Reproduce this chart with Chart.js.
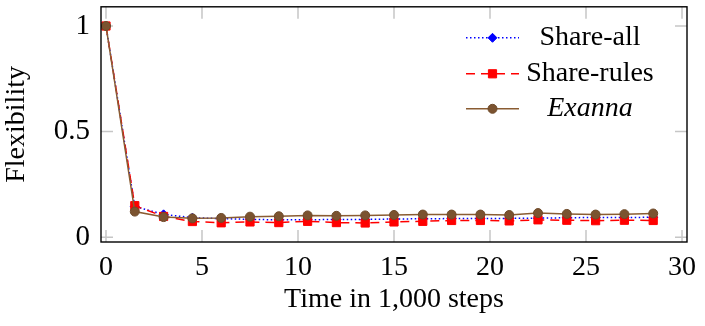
<!DOCTYPE html>
<html><head><meta charset="utf-8">
<script src="https://cdn.jsdelivr.net/npm/chart.js@4/dist/chart.umd.min.js"></script>
<style>html,body{margin:0;padding:0;background:#fff;}canvas{display:block;}</style>
</head><body>
<canvas id="c" width="705" height="326"></canvas>
<script>
const steps = [0, 1.5, 3, 4.5, 6, 7.5, 9, 10.5, 12, 13.5, 15, 16.5, 18, 19.5, 21, 22.5, 24, 25.5, 27, 28.5];
const shareAll = [1.0, 0.145, 0.108, 0.092, 0.088, 0.084, 0.082, 0.082, 0.084, 0.084, 0.086, 0.087, 0.088, 0.088, 0.089, 0.090, 0.092, 0.093, 0.093, 0.094];
const shareRules = [1.0, 0.149, 0.098, 0.074, 0.068, 0.072, 0.069, 0.075, 0.069, 0.067, 0.072, 0.075, 0.079, 0.079, 0.077, 0.082, 0.080, 0.078, 0.080, 0.079];
const exanna = [1.0, 0.121, 0.095, 0.089, 0.091, 0.097, 0.099, 0.103, 0.101, 0.103, 0.105, 0.107, 0.107, 0.107, 0.105, 0.114, 0.110, 0.107, 0.109, 0.112];
const xTickValues = [0, 5, 10, 15, 20, 25, 30];
const yTickValues = [0, 0.5, 1];
const seriesNames = ['Share-all', 'Share-rules', 'Exanna'];
const xTitle = 'Time in 1,000 steps';
const yTitle = 'Flexibility';

const FONT = '"Liberation Serif", "Times New Roman", serif';
const toPoints = ys => steps.map((x, i) => ({x: x, y: ys[i]}));

const innerTicks = {
  id: 'innerTicks',
  beforeDatasetsDraw(chart) {
    const ctx = chart.ctx, a = chart.chartArea, x = chart.scales.x, y = chart.scales.y;
    ctx.save();
    ctx.strokeStyle = '#c6c6c6';
    ctx.lineWidth = 1.5;
    ctx.beginPath();
    x.ticks.forEach(t => {
      const px = x.getPixelForValue(t.value);
      ctx.moveTo(px, a.bottom); ctx.lineTo(px, a.bottom - 12);
      ctx.moveTo(px, a.top); ctx.lineTo(px, a.top + 12);
    });
    y.ticks.forEach(t => {
      const py = y.getPixelForValue(t.value);
      ctx.moveTo(a.left, py); ctx.lineTo(a.left + 12, py);
      ctx.moveTo(a.right, py); ctx.lineTo(a.right - 12, py);
    });
    ctx.stroke();
    ctx.restore();
  },
  afterDatasetsDraw(chart) {
    const ctx = chart.ctx, a = chart.chartArea;
    ctx.save();
    ctx.strokeStyle = '#000';
    ctx.lineWidth = 1.4;
    ctx.strokeRect(a.left, a.top, a.right - a.left, a.bottom - a.top);
    ctx.restore();
  }
};

function drawMarker(ctx, style, r, cx, cy, fill, stroke) {
  ctx.save();
  ctx.fillStyle = fill; ctx.strokeStyle = stroke; ctx.lineWidth = 1;
  ctx.setLineDash([]);
  ctx.beginPath();
  if (style === 'circle') {
    ctx.arc(cx, cy, r, 0, Math.PI * 2);
  } else if (style === 'rect') {
    const s = Math.SQRT1_2 * r;
    ctx.rect(cx - s, cy - s, 2 * s, 2 * s);
  } else {
    ctx.moveTo(cx - r, cy); ctx.lineTo(cx, cy - r); ctx.lineTo(cx + r, cy); ctx.lineTo(cx, cy + r); ctx.closePath();
  }
  ctx.fill(); ctx.stroke();
  ctx.restore();
}

const texLegend = {
  id: 'texLegend',
  afterDraw(chart) {
    const ctx = chart.ctx, a = chart.chartArea;
    const sx0 = a.right - 221, sx1 = a.right - 168, tx = a.right - 97;
    const rows = [31, 67, 102];
    chart.data.datasets.forEach((ds, i) => {
      const yy = a.top + rows[i];
      ctx.save();
      ctx.strokeStyle = ds.borderColor;
      ctx.lineWidth = ds.borderWidth;
      ctx.setLineDash(ds.borderDash || []);
      ctx.beginPath(); ctx.moveTo(sx0, yy); ctx.lineTo(sx1, yy); ctx.stroke();
      ctx.restore();
      drawMarker(ctx, ds.pointStyle, ds.pointRadius, (sx0 + sx1) / 2, yy, ds.pointBackgroundColor, ds.pointBorderColor);
      ctx.save();
      ctx.fillStyle = '#000';
      ctx.font = (i === 2 ? 'italic ' : '') + '28px ' + FONT;
      ctx.textAlign = 'center';
      ctx.textBaseline = 'middle';
      ctx.fillText(ds.label, tx, yy);
      ctx.restore();
    });
  }
};

new Chart(document.getElementById('c'), {
  type: 'line',
  data: {
    datasets: [
      {label: seriesNames[0], data: toPoints(shareAll), borderColor: '#0000ff', backgroundColor: '#0000ff',
       borderWidth: 1.5, borderDash: [1.5, 2.5], pointStyle: 'rectRot', pointRadius: 4.5,
       pointBackgroundColor: '#0000ff', pointBorderColor: '#0000ff', pointBorderWidth: 1, order: 3},
      {label: seriesNames[1], data: toPoints(shareRules), borderColor: '#ff0000', backgroundColor: '#ff0000',
       borderWidth: 1.5, borderDash: [9, 6], pointStyle: 'rect', pointRadius: 5.8,
       pointBackgroundColor: '#ff0000', pointBorderColor: '#ff0000', pointBorderWidth: 1, order: 2},
      {label: seriesNames[2], data: toPoints(exanna), borderColor: '#8a5c32', backgroundColor: '#7b5330',
       borderWidth: 1.5, borderDash: [], pointStyle: 'circle', pointRadius: 4.5,
       pointBackgroundColor: '#7b5330', pointBorderColor: '#6e4a2a', pointBorderWidth: 1, order: 1}
    ]
  },
  options: {
    responsive: false,
    animation: false,
    devicePixelRatio: 1,
    layout: {padding: {top: 1, right: 18, left: 0, bottom: 0}},
    plugins: {legend: {display: false}, tooltip: {enabled: false}},
    elements: {line: {tension: 0}},
    scales: {
      x: {
        type: 'linear', min: -0.26, max: 30.26,
        afterBuildTicks: s => { s.ticks = xTickValues.map(v => ({value: v})); },
        afterFit: s => { s.height = 84; s.paddingLeft = 0; s.paddingRight = 0; },
        grid: {display: false, drawTicks: false},
        border: {display: false},
        ticks: {autoSkip: false, maxRotation: 0, padding: 9, color: '#000',
                font: {family: FONT, size: 28}, callback: v => String(v)},
        title: {display: true, text: xTitle, color: '#000', font: {family: FONT, size: 28},
                padding: {top: 0, bottom: 10}}
      },
      y: {
        type: 'linear', min: -0.023, max: 1.091,
        afterBuildTicks: s => { s.ticks = yTickValues.map(v => ({value: v})); },
        afterFit: s => { s.width = 101; s.paddingTop = 0; s.paddingBottom = 0; },
        grid: {display: false, drawTicks: false},
        border: {display: false},
        ticks: {padding: 11, color: '#000', font: {family: FONT, size: 29}, callback: v => String(v)},
        title: {display: true, text: yTitle, color: '#000', font: {family: FONT, size: 28},
                padding: {top: 0, bottom: 0}}
      }
    }
  },
  plugins: [innerTicks, texLegend]
});
</script>
</body></html>
